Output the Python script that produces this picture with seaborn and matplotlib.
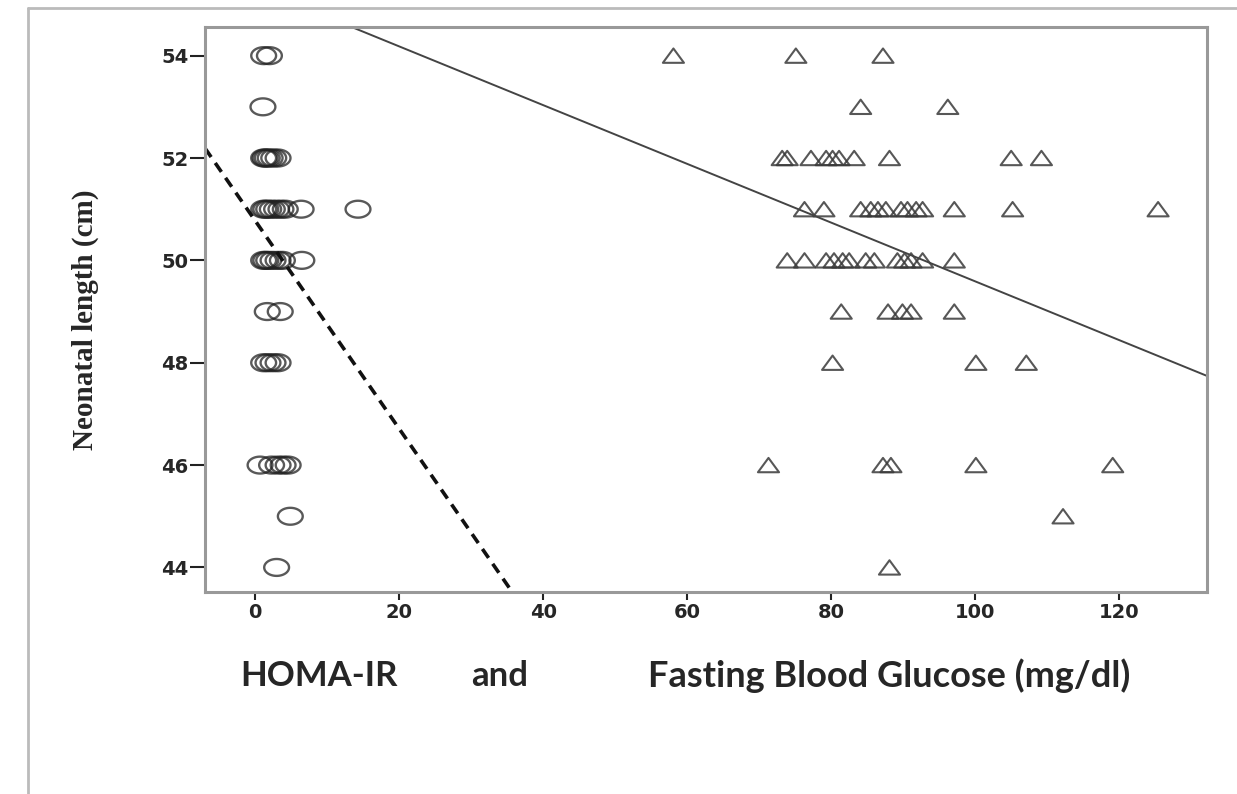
import numpy as np
import pandas as pd
import seaborn as sns
import matplotlib.pyplot as plt
from matplotlib.path import Path
from matplotlib.lines import Line2D

# HOMA-IR (circles)
homa_x = [1.2, 2.0,
          1.1,
          1.2, 1.4, 1.7, 2.1, 2.6, 3.2,
          1.2, 1.5, 1.9, 2.4, 3.0, 3.6, 4.2, 6.4, 14.3,
          1.2, 1.5, 1.9, 2.5, 3.2, 3.8, 6.5,
          1.7, 3.5,
          1.2, 1.8, 2.5, 3.2,
          0.7, 2.3, 3.2, 3.9, 4.6,
          4.9,
          3.0]
homa_y = [54, 54,
          53,
          52, 52, 52, 52, 52, 52,
          51, 51, 51, 51, 51, 51, 51, 51, 51,
          50, 50, 50, 50, 50, 50, 50,
          49, 49,
          48, 48, 48, 48,
          46, 46, 46, 46, 46,
          45,
          44]

# Fasting blood glucose (triangles)
fbg_x = [58.1, 75.1, 87.2,
         84.1, 96.2,
         73.2, 73.9, 77.2, 79.3, 80.2, 81.1, 83.2, 88.1, 105.0, 109.2,
         76.3, 79.0, 84.1, 85.5, 86.5, 87.6, 89.7, 90.6, 91.8, 92.7, 97.1, 105.2, 125.4,
         73.9, 76.3, 79.3, 80.4, 81.6, 82.5, 84.8, 86.0, 89.2, 90.2, 91.1, 92.7, 97.1,
         81.4, 87.9, 89.9, 91.1, 97.1,
         80.2, 100.1, 107.1,
         71.3, 87.2, 88.3, 100.1, 119.1,
         112.2,
         88.1]
fbg_y = [54, 54, 54,
         53, 53,
         52, 52, 52, 52, 52, 52, 52, 52, 52, 52,
         51, 51, 51, 51, 51, 51, 51, 51, 51, 51, 51, 51, 51,
         50, 50, 50, 50, 50, 50, 50, 50, 50, 50, 50, 50, 50,
         49, 49, 49, 49, 49,
         48, 48, 48,
         46, 46, 46, 46, 46,
         45,
         44]

# fit lines (intercept, slope)
homa_fit = (50.78, -0.2033)
fbg_fit = (55.33, -0.0574)

x_ticks = [0, 20, 40, 60, 80, 100, 120]
y_ticks = [44, 46, 48, 50, 52, 54]

homa = pd.DataFrame({"x": homa_x, "y": homa_y})
fbg = pd.DataFrame({"x": fbg_x, "y": fbg_y})

sns.set_style("white")

# wide ellipse / flat triangle, like the stretched original
t = np.linspace(0, 2 * np.pi, 60)
ellipse = Path(np.column_stack([np.cos(t), 0.68 * np.sin(t)]), closed=True)
tri = Path([(-1, -0.68), (1, -0.68), (0, 0.68), (-1, -0.68)], closed=True)

fig = plt.figure(figsize=(12.37, 7.94), dpi=100)
ax = fig.add_axes([0.1657, 0.2544, 0.8101, 0.7116])

sns.scatterplot(data=homa, x="x", y="y", ax=ax, marker=ellipse, s=320,
                facecolor="none", edgecolor="#222222", linewidth=1.7, alpha=0.75)
sns.scatterplot(data=fbg, x="x", y="y", ax=ax, marker=tri, s=230,
                facecolor="none", edgecolor="#3a3a3a", linewidth=1.5, alpha=0.85)

ax.axline((0, homa_fit[0]), slope=homa_fit[1], color="#111111", lw=2.6,
          linestyle=(0, (3, 2)))
ax.axline((0, fbg_fit[0]), slope=fbg_fit[1], color="#444444", lw=1.4)

ax.set_xlim(-6.95, 132.2)
ax.set_ylim(43.52, 54.56)
ax.set_xticks(x_ticks)
ax.set_yticks(y_ticks)
ax.set_xlabel("")
ax.set_ylabel("Neonatal length (cm)", family="Liberation Serif", fontsize=21,
              fontweight="bold")
ax.yaxis.set_label_coords(-0.106, 0.481)

for lab in ax.get_xticklabels() + ax.get_yticklabels():
    lab.set_family("DejaVu Sans")
    lab.set_fontweight("bold")
    lab.set_fontsize(14)
ax.tick_params(axis="y", direction="out", length=11, width=1.5,
               color="#222222", pad=1, left=True)
ax.tick_params(axis="x", direction="out", length=6, width=1.5,
               color="#222222", pad=2, bottom=True)

for sp in ax.spines.values():
    sp.set_color("#999999")
    sp.set_linewidth(2.2)

fig.text(0.194, 0.149, "HOMA-IR", family="Lato", fontweight="bold",
         fontsize=25, va="center", ha="left")
fig.text(0.381, 0.149, "and", family="Lato", fontweight="bold",
         fontsize=25, va="center", ha="left")
fig.text(0.524, 0.149, "Fasting Blood Glucose (mg/dl)", family="Lato",
         fontweight="bold", fontsize=26, va="center", ha="left")

# outer frame from the original figure
fig.add_artist(Line2D([0.0226, 1.0], [0.990, 0.990], color="#bbbbbb", lw=2))
fig.add_artist(Line2D([0.0226, 0.0226], [0.0, 0.990], color="#bbbbbb", lw=2))

fig.savefig("out.png", dpi=100)
